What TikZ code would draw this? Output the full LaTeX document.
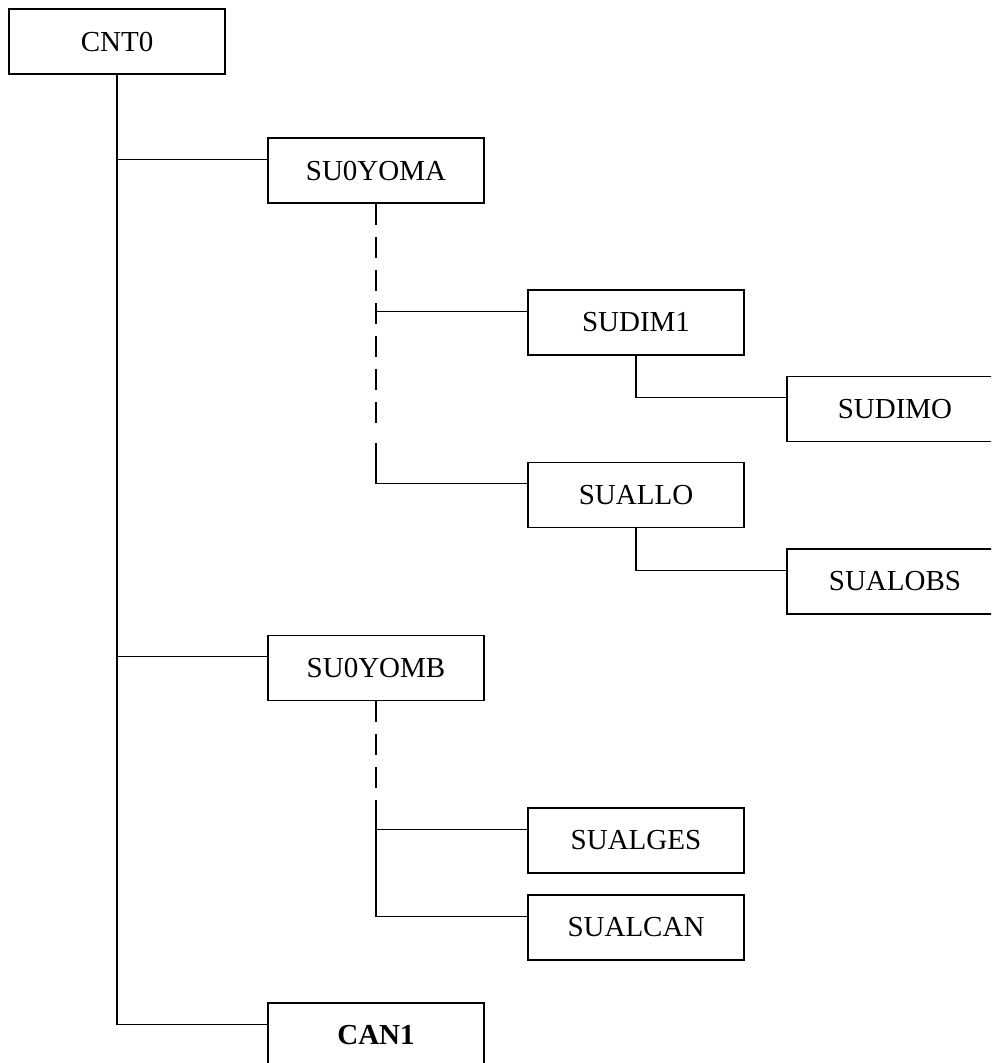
\documentclass[tikz,border=0pt]{standalone}
\usepackage{fontspec}
\setmainfont{Liberation Serif}
\usetikzlibrary{calc}
\begin{document}
\begin{tikzpicture}[x=1pt,y=-1pt,
  box/.style={draw, line width=1.6pt, minimum width=216pt, minimum height=65pt,
    inner sep=0pt, font=\fontsize{29}{31}\selectfont},
  link/.style={line width=1.3pt},
  dashlink/.style={line width=1.3pt, dash pattern=on 21pt off 12pt}]
\clip (0,0) rectangle (991,1063);
\fill[white] (0,0) rectangle (991,1063);

% module boxes
\node[box] (cnt)   at (117,41.5)  {CNT0};
\node[box] (yoma)  at (376,170.5) {SU0YOMA};
\node[box] (dim1)  at (636,322.5) {SUDIM1};
\node[box] (dimo)  at (895,409)   {SUDIMO};
\node[box] (allo)  at (636,495)   {SUALLO};
\node[box] (alobs) at (895,581.5) {SUALOBS};
\node[box] (yomb)  at (376,668)   {SU0YOMB};
\node[box] (alges) at (636,840.5) {SUALGES};
\node[box] (alcan) at (636,927.5) {SUALCAN};
\node[box, font=\fontsize{29}{31}\selectfont\bfseries] (can1) at (376,1035.5) {CAN1};

% attachment points on the left side of each child
\foreach \n in {yoma,dim1,dimo,allo,alobs,yomb,alges,alcan,can1}
  \coordinate (j\n) at ($(\n.north west)+(0,22)$);

% main trunk from CNT0
\draw[link] (cnt.south) |- (jcan1);
\draw[link] (cnt.south |- jyoma) -- (jyoma);
\draw[link] (cnt.south |- jyomb) -- (jyomb);

% SU0YOMA branch
\coordinate (ya1) at ($(yoma.south)+(0,222)$);
\coordinate (ya2) at ($(yoma.south)+(0,239)$);
\draw[dashlink] (yoma.south) -- (ya1);
\draw[link] (ya2) |- (jallo);
\draw[link] (yoma.south |- jdim1) -- (jdim1);
\draw[link] (dim1.south) |- (jdimo);
\draw[link] (allo.south) |- (jalobs);

% SU0YOMB branch
\coordinate (yb1) at ($(yomb.south)+(0,90)$);
\coordinate (yb2) at ($(yomb.south)+(0,99)$);
\draw[dashlink] (yomb.south) -- (yb1);
\draw[link] (yb2) |- (jalcan);
\draw[link] (yomb.south |- jalges) -- (jalges);
\end{tikzpicture}
\end{document}
